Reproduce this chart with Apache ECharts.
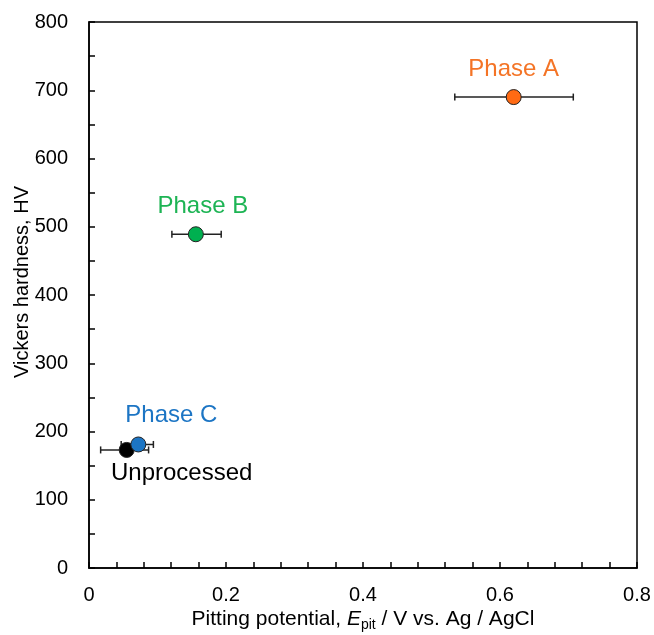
<!DOCTYPE html>
<html><head><meta charset="utf-8">
<script src="https://cdn.jsdelivr.net/npm/echarts@6/dist/echarts.min.js"></script>
<style>html,body{margin:0;padding:0;background:#fff}#c{width:654px;height:635px}</style>
</head><body><div id="c"></div>
<script>
const names = ['Unprocessed', 'Phase C', 'Phase B', 'Phase A'];
const potential = [0.055, 0.072, 0.156, 0.620];
const hardness = [173, 181, 489, 690];
const potLow = [0.017, 0.047, 0.121, 0.534];
const potHigh = [0.087, 0.094, 0.193, 0.707];
const colors = ['#000000', '#1C75C4', '#00B050', '#FF6A13'];
const labelColors = ['#000000', '#1C75C4', '#1DB454', '#F47426'];
const labelPos = ['bottom', 'top', 'top', 'top'];
const labelOffset = [[55, -2], [33, -4], [7, -3], [0, -3]];
const xTicks = [0, 0.2, 0.4, 0.6, 0.8];
const yTicks = [0, 100, 200, 300, 400, 500, 600, 700, 800];

const font = 'Liberation Sans, Arial, sans-serif';
const chart = echarts.init(document.getElementById('c'));

const errData = names.map((n, i) => [potLow[i], potHigh[i], hardness[i]]);

const series = [{
  type: 'custom',
  z: 1,
  silent: true,
  data: errData,
  renderItem: function (params, api) {
    const a = api.coord([api.value(0), api.value(2)]);
    const b = api.coord([api.value(1), api.value(2)]);
    const h = 3.5;
    const st = { stroke: '#222', lineWidth: 1.5 };
    return { type: 'group', children: [
      { type: 'line', shape: { x1: a[0], y1: a[1], x2: b[0], y2: b[1] }, style: st },
      { type: 'line', shape: { x1: a[0], y1: a[1] - h, x2: a[0], y2: a[1] + h }, style: st },
      { type: 'line', shape: { x1: b[0], y1: b[1] - h, x2: b[0], y2: b[1] + h }, style: st }
    ]};
  }
}];
names.forEach((n, i) => {
  series.push({
    type: 'scatter',
    name: n,
    z: 3 + i,
    symbolSize: 15,
    itemStyle: { color: colors[i], borderColor: '#222', borderWidth: 1, opacity: 1 },
    data: [[potential[i], hardness[i]]],
    label: {
      show: true, formatter: n, position: labelPos[i], offset: labelOffset[i],
      color: labelColors[i], fontSize: 24, fontFamily: font, distance: 5
    }
  });
});

chart.setOption({
  animation: false,
  backgroundColor: '#fff',
  grid: { left: 89, right: 17, top: 22, bottom: 67, containLabel: false, outerBoundsMode: 'none',
    show: true, borderColor: '#000', borderWidth: 1.5 },
  xAxis: {
    type: 'value', min: xTicks[0], max: xTicks[xTicks.length - 1], interval: 0.2,
    axisLine: { show: true, lineStyle: { color: '#000', width: 1.5 } },
    axisTick: { show: true, inside: true, length: 6, lineStyle: { color: '#000', width: 1.5 } },
    minorTick: { show: true, splitNumber: 5, length: 6, lineStyle: { color: '#000', width: 1.5 } },
    splitLine: { show: false },
    axisLabel: { color: '#000', fontSize: 20, fontFamily: font, margin: 17,
      formatter: v => (v === 0 ? '0' : v.toFixed(1)) },
    name: '{n|Pitting potential, }{i|E}{s|pit}{n| / V vs. Ag / AgCl}',
    nameLocation: 'middle', nameGap: 38, nameMoveOverlap: false,
    nameTextStyle: { rich: {
      n: { fontSize: 21, lineHeight: 26, fontFamily: font, color: '#000' },
      i: { fontSize: 21, lineHeight: 26, fontFamily: font, color: '#000', fontStyle: 'italic' },
      s: { fontSize: 14, lineHeight: 14, fontFamily: font, color: '#000', verticalAlign: 'bottom' }
    } }
  },
  yAxis: {
    type: 'value', min: yTicks[0], max: yTicks[yTicks.length - 1], interval: 100,
    axisLine: { show: true, lineStyle: { color: '#000', width: 1.5 } },
    axisTick: { show: true, inside: true, length: 6, lineStyle: { color: '#000', width: 1.5 } },
    minorTick: { show: true, splitNumber: 2, length: 6, lineStyle: { color: '#000', width: 1.5 } },
    splitLine: { show: false },
    axisLabel: { color: '#000', fontSize: 20, fontFamily: font, margin: 21 },
    name: 'Vickers hardness, HV', nameLocation: 'middle', nameGap: 57, nameMoveOverlap: false,
    nameTextStyle: { fontSize: 20, fontFamily: font, color: '#000', padding: [0, 0, 0, 26] }
  },
  series: series
});
</script></body></html>
